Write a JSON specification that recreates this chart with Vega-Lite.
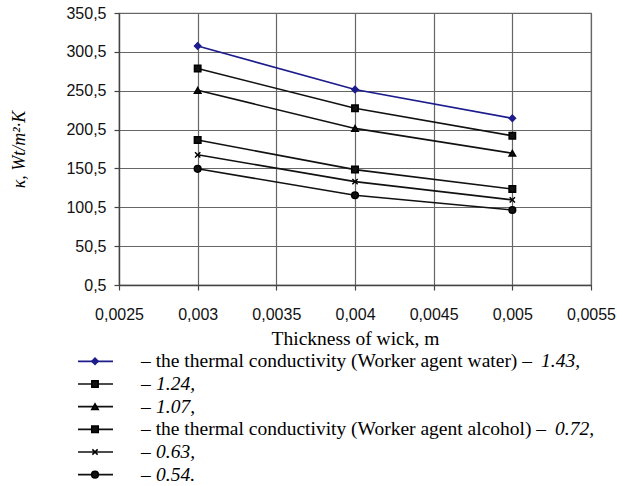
{
  "$schema": "https://vega.github.io/schema/vega-lite/v6.json",
  "background": "white",
  "padding": {"left": 10, "top": 4, "right": 0, "bottom": 0},
  "spacing": 1,
  "datasets": {
    "pts": [
      {"s": "1.43", "x": 0.003, "y": 308}, {"s": "1.43", "x": 0.004, "y": 252}, {"s": "1.43", "x": 0.005, "y": 215},
      {"s": "1.24", "x": 0.003, "y": 279}, {"s": "1.24", "x": 0.004, "y": 228}, {"s": "1.24", "x": 0.005, "y": 192.5},
      {"s": "1.07", "x": 0.003, "y": 251}, {"s": "1.07", "x": 0.004, "y": 202}, {"s": "1.07", "x": 0.005, "y": 170},
      {"s": "0.72", "x": 0.003, "y": 187}, {"s": "0.72", "x": 0.004, "y": 149}, {"s": "0.72", "x": 0.005, "y": 124},
      {"s": "0.63", "x": 0.003, "y": 168}, {"s": "0.63", "x": 0.004, "y": 133.5}, {"s": "0.63", "x": 0.005, "y": 110},
      {"s": "0.54", "x": 0.003, "y": 150}, {"s": "0.54", "x": 0.004, "y": 116}, {"s": "0.54", "x": 0.005, "y": 97}
    ],
    "leg": [
      {"s": "1.43", "pre": "– the thermal conductivity (Worker agent water) –", "num": "1.43,", "kind": "water"},
      {"s": "1.24", "pre": "–", "num": "1.24,", "kind": "short"},
      {"s": "1.07", "pre": "–", "num": "1.07,", "kind": "short"},
      {"s": "0.72", "pre": "– the thermal conductivity (Worker agent alcohol) –", "num": "0.72,", "kind": "alcohol"},
      {"s": "0.63", "pre": "–", "num": "0.63,", "kind": "short"},
      {"s": "0.54", "pre": "–", "num": "0.54.", "kind": "short"}
    ]
  },
  "vconcat": [
    {
      "width": 472,
      "height": 272,
      "data": {"name": "pts"},
      "encoding": {
        "x": {
          "field": "x", "type": "quantitative",
          "scale": {"domain": [0.0025, 0.0055], "nice": false, "zero": false},
          "axis": {
            "values": [0.0025, 0.003, 0.0035, 0.004, 0.0045, 0.005, 0.0055],
            "format": "~g",
            "labelExpr": "replace(datum.label, '.', ',')",
            "labelPadding": 16,
            "labelFlush": false,
            "title": "Thickness of wick, m",
            "titleFont": "Liberation Serif", "titleFontSize": 19.5, "titleFontWeight": "normal",
            "titleColor": "black", "titlePadding": 7
          }
        },
        "y": {
          "field": "y", "type": "quantitative",
          "scale": {"domain": [0.5, 350.5], "nice": false, "zero": false},
          "axis": {
            "values": [0.5, 50.5, 100.5, 150.5, 200.5, 250.5, 300.5, 350.5],
            "format": ".1f",
            "labelExpr": "replace(datum.label, '.', ',')",
            "labelPadding": 8,
            "labelFlush": false,
            "title": "κ, Wt/m²·K",
            "titleFont": "Liberation Serif", "titleFontSize": 18, "titleFontWeight": "normal",
            "titleFontStyle": "italic", "titleColor": "black", "titlePadding": 37
          }
        }
      },
      "layer": [
        {
          "mark": {"type": "line", "strokeWidth": 1.6},
          "encoding": {
            "detail": {"field": "s"},
            "color": {"field": "s", "type": "nominal",
              "scale": {"domain": ["1.43", "1.24", "1.07", "0.72", "0.63", "0.54"],
                        "range": ["#1c1c8c", "#111111", "#111111", "#111111", "#111111", "#111111"]},
              "legend": null}
          }
        },
        {
          "mark": {"type": "point", "filled": true, "opacity": 1, "strokeWidth": 1.5},
          "encoding": {
            "color": {"field": "s", "type": "nominal",
              "scale": {"domain": ["1.43", "1.24", "1.07", "0.72", "0.63", "0.54"],
                        "range": ["#1c1c8c", "#000000", "#000000", "#000000", "#000000", "#000000"]},
              "legend": null},
            "stroke": {"field": "s", "type": "nominal",
              "scale": {"domain": ["1.43", "1.24", "1.07", "0.72", "0.63", "0.54"],
                        "range": ["#1c1c8c", "#000000", "#000000", "#000000", "#000000", "#000000"]},
              "legend": null},
            "shape": {"field": "s", "type": "nominal",
              "scale": {"domain": ["1.43", "1.24", "1.07", "0.72", "0.63", "0.54"],
                        "range": ["diamond", "square", "triangle-up", "square", "M-0.8,-0.8L0.8,0.8M-0.8,0.8L0.8,-0.8", "circle"]},
              "legend": null},
            "size": {"field": "s", "type": "nominal",
              "scale": {"domain": ["1.43", "1.24", "1.07", "0.72", "0.63", "0.54"],
                        "range": [40, 45, 45, 130, 50, 40]},
              "legend": null}
          }
        }
      ]
    },
    {
      "width": 472,
      "height": 136,
      "view": {"stroke": null},
      "data": {"name": "leg"},
      "encoding": {
        "y": {"field": "s", "type": "nominal",
              "scale": {"domain": ["1.43", "1.24", "1.07", "0.72", "0.63", "0.54"], "type": "point", "padding": 0.5},
              "axis": null}
      },
      "layer": [
        {
          "mark": {"type": "rule", "strokeWidth": 1.6},
          "encoding": {
            "x": {"datum": 79, "type": "quantitative", "scale": {"domain": [120, 592], "nice": false, "zero": false}, "axis": null},
            "x2": {"datum": 114},
            "color": {"field": "s", "type": "nominal",
              "scale": {"domain": ["1.43", "1.24", "1.07", "0.72", "0.63", "0.54"],
                        "range": ["#1c1c8c", "#111111", "#111111", "#111111", "#111111", "#111111"]},
              "legend": null}
          }
        },
        {
          "mark": {"type": "point", "filled": true, "opacity": 1, "strokeWidth": 1.5},
          "encoding": {
            "x": {"datum": 96, "type": "quantitative"},
            "color": {"field": "s", "type": "nominal",
              "scale": {"domain": ["1.43", "1.24", "1.07", "0.72", "0.63", "0.54"],
                        "range": ["#1c1c8c", "#000000", "#000000", "#000000", "#000000", "#000000"]},
              "legend": null},
            "stroke": {"field": "s", "type": "nominal",
              "scale": {"domain": ["1.43", "1.24", "1.07", "0.72", "0.63", "0.54"],
                        "range": ["#1c1c8c", "#000000", "#000000", "#000000", "#000000", "#000000"]},
              "legend": null},
            "shape": {"field": "s", "type": "nominal",
              "scale": {"domain": ["1.43", "1.24", "1.07", "0.72", "0.63", "0.54"],
                        "range": ["diamond", "square", "triangle-up", "square", "M-0.8,-0.8L0.8,0.8M-0.8,0.8L0.8,-0.8", "circle"]},
              "legend": null},
            "size": {"field": "s", "type": "nominal",
              "scale": {"domain": ["1.43", "1.24", "1.07", "0.72", "0.63", "0.54"],
                        "range": [35, 40, 40, 110, 45, 35]},
              "legend": null}
          }
        },
        {
          "mark": {"type": "text", "align": "left", "baseline": "middle", "font": "Liberation Serif", "fontSize": 19.5, "color": "black"},
          "encoding": {
            "x": {"datum": 142, "type": "quantitative"},
            "text": {"field": "pre"}
          }
        },
        {
          "transform": [{"filter": "datum.kind === 'short'"}],
          "mark": {"type": "text", "align": "left", "baseline": "middle", "font": "Liberation Serif", "fontSize": 19.5, "fontStyle": "italic", "color": "black"},
          "encoding": {
            "x": {"datum": 157, "type": "quantitative"},
            "text": {"field": "num"}
          }
        },
        {
          "transform": [{"filter": "datum.kind === 'water'"}],
          "mark": {"type": "text", "align": "left", "baseline": "middle", "font": "Liberation Serif", "fontSize": 19.5, "fontStyle": "italic", "color": "black"},
          "encoding": {
            "x": {"datum": 542, "type": "quantitative"},
            "text": {"field": "num"}
          }
        },
        {
          "transform": [{"filter": "datum.kind === 'alcohol'"}],
          "mark": {"type": "text", "align": "left", "baseline": "middle", "font": "Liberation Serif", "fontSize": 19.5, "fontStyle": "italic", "color": "black"},
          "encoding": {
            "x": {"datum": 556, "type": "quantitative"},
            "text": {"field": "num"}
          }
        }
      ]
    }
  ],
  "config": {
    "view": {"stroke": "#777777", "strokeWidth": 1.2},
    "axis": {
      "grid": true, "gridColor": "#666666", "gridWidth": 1.2, "gridOpacity": 1,
      "domainColor": "#444444", "domainWidth": 1.3,
      "tickColor": "#444444", "tickSize": 5, "tickWidth": 1.2,
      "labelFont": "Liberation Sans", "labelFontSize": 16, "labelColor": "#111111"
    }
  }
}
